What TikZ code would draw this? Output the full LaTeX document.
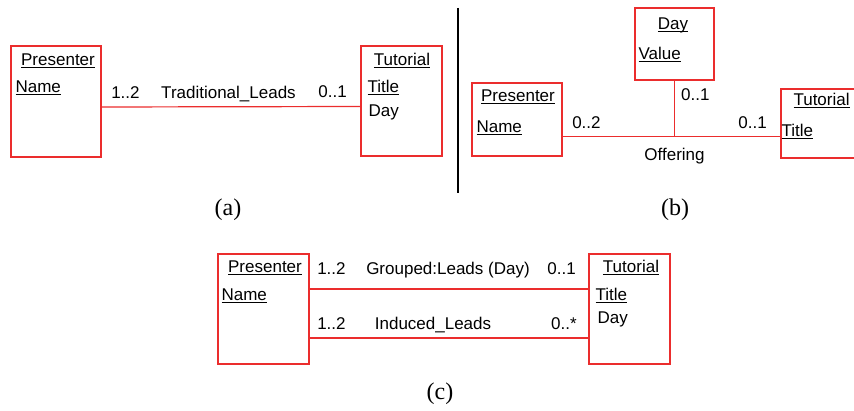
\documentclass[tikz,border=0pt]{standalone}
\usepackage{fontspec}
\setmainfont{Liberation Sans}
\newfontfamily\capfont{Liberation Serif}
\usetikzlibrary{calc,positioning}
\definecolor{umlred}{RGB}{235,45,45}
\newcommand{\undl}[1]{\setbox0\hbox{#1}\rlap{\rule[-2.6pt]{\wd0}{1.1pt}}\box0}

\begin{document}
\begin{tikzpicture}[x=1pt,y=1pt,
    cls/.style={draw=umlred,line width=1.3pt,rectangle,inner sep=0pt},
    assoc/.style={draw=umlred,line width=1.2pt},
    lbl/.style={inner sep=0pt,font=\fontsize{17}{20}\selectfont},
    captn/.style={inner sep=0pt,font=\capfont\fontsize{24}{28}\selectfont}]
  \path[use as bounding box] (0,0) rectangle (854,410);
  \clip (0,0) rectangle (854,410);

  % (a)
  \node[cls,minimum width=90,minimum height=111]  (PA)  at (56,308.5)   {};
  \node[cls,minimum width=81,minimum height=110]  (TA)  at (401.5,309)  {};
  \node[lbl,anchor=base]      (PAn) at ($(PA.north)+(2,-20)$)        {\undl{Presenter}};
  \node[lbl,anchor=base west] (PAa) at ($(PA.north west)+(5,-47)$)   {\undl{Name}};
  \node[lbl,anchor=base]      (TAn) at ($(TA.north)+(0.5,-20)$)      {\undl{Tutorial}};
  \node[lbl,anchor=base west] (TAa) at ($(TA.north west)+(7,-47)$)   {\undl{Title}};
  \node[lbl,anchor=base west] (TAb) at ($(TA.north west)+(8,-71)$)   {Day};
  \draw[assoc] ([yshift=-5.5]PA.east) -- ([yshift=-5.5]TA.west)
      node[lbl,pos=0,anchor=base west,xshift=9,yshift=8.7]   (mA1) {1..2}
      node[lbl,midway,anchor=base,xshift=-2.5,yshift=8.7]    (rA)  {Traditional\_Leads}
      node[lbl,pos=1,anchor=base east,xshift=-13,yshift=8.7] (mA2) {0..1};
  \node[captn] (capA) at (228,200) {(a)};

  % divider
  \draw[line width=2pt] (458,402) -- (458,217);

  % (b)
  \node[cls,minimum width=79,minimum height=72]   (DB)  at (674.5,366)  {};
  \node[cls,minimum width=90,minimum height=73]   (PB)  at (517,290.5)  {};
  \node[cls,minimum width=90,minimum height=69]   (TB)  at (826,286.5)  {};
  \node[lbl,anchor=base]      (DBn) at ($(DB.north)+(-1.5,-22)$)     {\undl{Day}};
  \node[lbl,anchor=base west] (DBa) at ($(DB.north west)+(4,-52)$)   {\undl{Value}};
  \node[lbl,anchor=base]      (PBn) at ($(PB.north)+(1,-18.7)$)      {\undl{Presenter}};
  \node[lbl,anchor=base west] (PBa) at ($(PB.north west)+(5,-49.7)$) {\undl{Name}};
  \node[lbl,anchor=base west] (TBn) at ($(TB.north west)+(13,-17)$)  {\undl{Tutorial}};
  \node[lbl,anchor=base west] (TBa) at ($(TB.north west)+(1,-47.7)$) {\undl{Title}};
  \coordinate (JB) at ($(DB.south)+(0,-56)$);
  \draw[assoc] (PB.east |- JB) -- (TB.west |- JB)
      node[lbl,pos=0,anchor=base west,xshift=9,yshift=7.7]   (mB1) {0..2}
      node[lbl,pos=1,anchor=base east,xshift=-13,yshift=7.7] (mB2) {0..1};
  \draw[assoc] (DB.south) -- (JB);
  \node[lbl,anchor=base west] (mB3) at ($(DB.south)+(6.5,-20)$) {0..1};
  \node[lbl,anchor=base]      (rB)  at ($(JB)+(0,-24)$)         {Offering};
  \node[captn] (capB) at (675,200) {(b)};

  % (c)
  \node[cls,minimum width=91,minimum height=110]  (PC)  at (263.5,101)  {};
  \node[cls,minimum width=81,minimum height=110]  (TC)  at (629.5,101)  {};
  \node[lbl,anchor=base]      (PCn) at ($(PC.north)+(1.5,-19.3)$)    {\undl{Presenter}};
  \node[lbl,anchor=base west] (PCa) at ($(PC.north west)+(4,-47)$)   {\undl{Name}};
  \node[lbl,anchor=base]      (TCn) at ($(TC.north)+(1.5,-19.3)$)    {\undl{Tutorial}};
  \node[lbl,anchor=base west] (TCa) at ($(TC.north west)+(7,-47)$)   {\undl{Title}};
  \node[lbl,anchor=base west] (TCb) at ($(TC.north west)+(9,-70)$)   {Day};
  \draw[assoc] ([yshift=20]PC.east) -- ([yshift=20]TC.west)
      node[lbl,pos=0,anchor=base west,xshift=7,yshift=14.3]   (mC1) {1..2}
      node[lbl,midway,anchor=base,xshift=-1,yshift=14.3]      (rC1) {Grouped:Leads (Day)}
      node[lbl,pos=1,anchor=base east,xshift=-12,yshift=14.3] (mC2) {0..1};
  \draw[assoc] ([yshift=-29]PC.east) -- ([yshift=-29]TC.west)
      node[lbl,pos=0,anchor=base west,xshift=7,yshift=8.7]    (mC3) {1..2}
      node[lbl,midway,anchor=base,xshift=-16,yshift=8.7]      (rC2) {Induced\_Leads}
      node[lbl,pos=1,anchor=base east,xshift=-11,yshift=8.7]  (mC4) {0..*};
  \node[captn] (capC) at (440,16) {(c)};
\end{tikzpicture}
\end{document}
